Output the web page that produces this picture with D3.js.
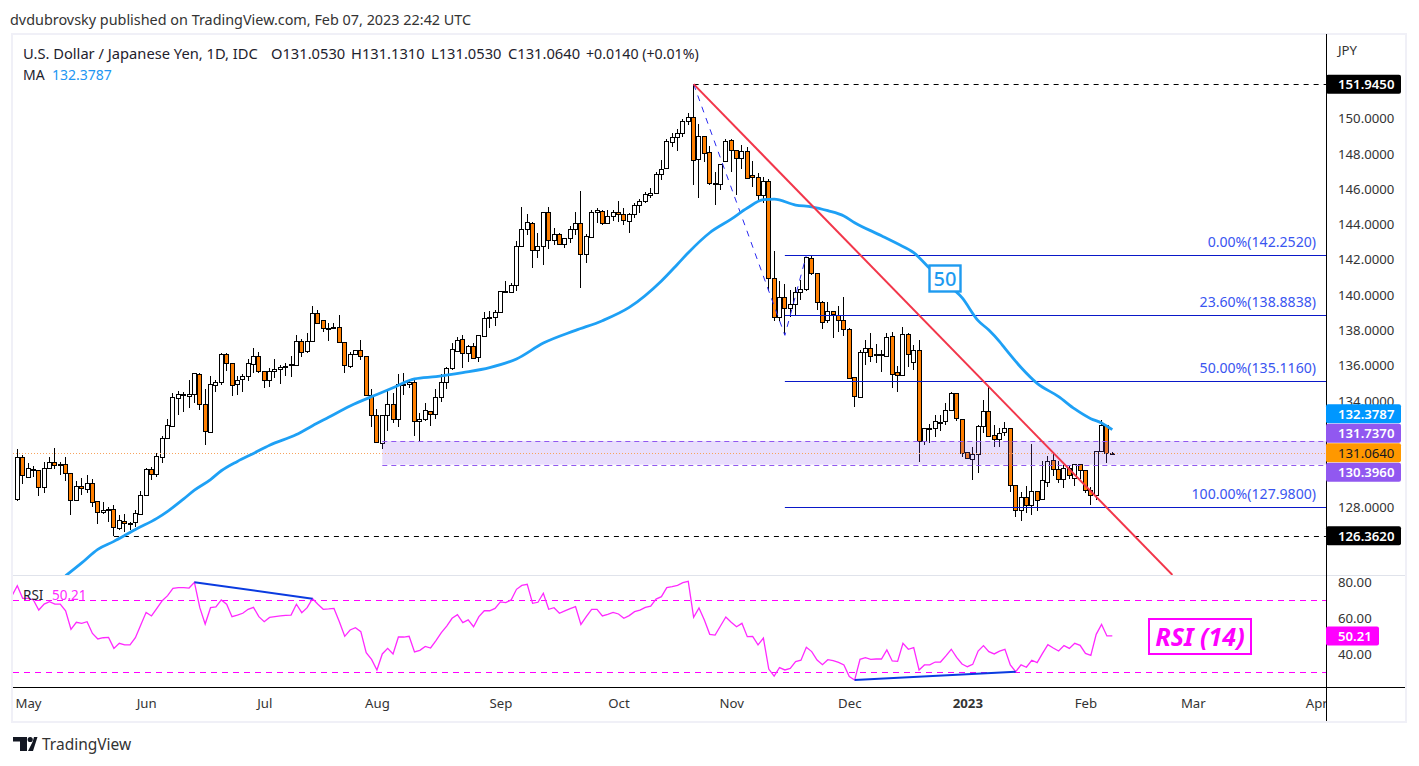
<!DOCTYPE html>
<html><head><meta charset="utf-8">
<script src="https://cdn.jsdelivr.net/npm/d3@7"></script>
<style>html,body{margin:0;padding:0;background:#fff}svg{display:block}text{font-family:"Noto Sans",sans-serif;white-space:pre}</style>
</head><body><div id="c"></div>
<script>
const opens=[128.43,130.81,129.71,130.13,130.07,129.11,130.18,130.52,130.41,130.41,
129.90,128.37,129.16,128.99,129.33,128.31,127.69,127.80,127.86,126.78,
127.18,127.07,127.12,127.58,128.65,130.13,129.84,130.81,131.88,132.56,
134.15,134.37,134.26,134.37,135.51,133.81,132.22,134.88,135.05,136.64,
136.13,134.94,135.22,135.39,136.07,136.53,135.68,135.17,135.68,135.79,
135.90,136.02,136.02,137.38,136.81,137.38,138.96,138.57,138.15,138.15,
138.21,137.32,136.00,136.65,136.87,136.53,134.32,133.19,131.60,133.19,
133.81,132.96,134.95,134.95,135.06,132.85,132.96,133.42,133.25,134.21,
135.06,135.85,136.82,137.50,136.70,137.10,136.48,137.67,138.68,138.74,
139.02,140.15,140.15,140.55,142.76,143.73,144.07,142.54,142.76,144.69,
143.10,143.44,142.88,143.22,143.73,144.07,142.31,143.27,144.69,144.75,
144.07,144.46,144.69,144.57,144.18,144.57,145.09,145.31,145.65,145.76,
146.86,147.18,148.65,148.94,149.16,149.84,150.07,147.69,148.99,148.08,
146.33,146.27,147.57,148.76,148.20,147.74,148.14,146.78,146.67,145.65,
146.44,140.95,138.74,139.87,139.25,139.47,140.15,140.32,142.08,141.23,
139.59,138.57,139.08,138.85,138.57,138.06,135.34,134.21,136.75,136.98,
136.64,136.64,136.53,137.66,135.62,135.45,137.77,136.19,136.87,131.72,
132.40,132.45,132.74,132.85,133.47,134.44,132.96,131.10,130.70,130.98,
132.57,133.42,132.06,131.83,132.23,132.45,129.23,127.81,128.55,128.09,
128.89,128.43,129.40,130.64,130.13,129.57,130.19,129.62,130.42,130.07,
128.94,128.66,131.15,132.62,131.053];
const highs=[131.26,130.94,130.50,130.32,130.07,130.54,130.84,131.32,130.56,130.81,
129.90,129.48,129.62,129.79,129.60,128.31,128.26,128.01,128.11,127.52,
127.58,127.12,127.82,128.90,130.18,130.24,131.03,132.01,132.96,134.47,
134.56,134.52,135.19,135.56,135.56,134.66,135.41,135.19,136.70,136.70,
136.13,135.41,135.51,136.36,136.98,136.79,135.68,135.85,136.36,136.04,
136.13,136.55,137.72,137.49,137.83,139.38,139.15,138.57,138.40,138.40,
138.87,137.32,136.76,136.87,137.46,136.53,134.66,133.55,133.19,134.55,
134.44,135.51,135.57,135.19,135.29,133.30,133.87,133.42,134.66,135.51,
135.91,137.27,137.65,137.74,137.17,137.27,137.72,139.02,139.10,139.16,
140.21,140.78,140.71,143.05,144.97,144.59,144.12,143.50,144.69,144.97,
143.78,143.50,143.22,143.91,144.69,145.90,143.44,144.82,144.92,144.82,
144.82,144.82,145.31,144.92,144.63,145.20,145.43,145.82,146.05,146.99,
147.65,148.82,149.16,149.39,149.95,150.29,151.945,149.69,148.99,148.44,
146.95,147.40,148.82,148.82,148.20,148.48,148.37,147.57,146.89,146.67,
146.55,142.48,140.78,140.61,140.29,140.47,140.85,142.14,142.23,141.23,
139.66,139.59,139.08,139.36,139.87,138.11,135.34,136.87,137.43,137.83,
137.21,136.87,137.83,137.89,135.96,138.17,137.83,137.15,137.46,132.45,
132.70,133.21,133.21,133.87,134.49,134.44,132.96,131.10,131.38,132.64,
134.06,134.81,132.62,132.45,132.83,132.45,129.23,128.83,129.19,131.57,
128.89,130.59,130.87,131.09,130.59,130.36,130.32,130.42,130.42,130.07,
129.11,131.15,132.93,132.62,131.131];
const lows=[128.35,129.30,129.65,129.71,128.63,128.77,130.13,130.15,129.80,129.48,
127.56,128.37,128.67,128.77,128.01,127.05,127.58,127.16,126.362,126.70,
126.60,126.69,126.88,127.52,128.65,129.52,129.67,130.47,131.88,132.56,
133.22,133.35,133.60,133.86,133.49,131.52,132.22,134.53,134.90,135.68,
134.30,134.34,134.53,135.15,135.56,135.56,134.75,134.81,135.28,134.96,
135.43,135.37,136.02,136.49,136.70,137.38,138.40,137.92,137.41,138.11,
137.32,135.60,135.89,136.61,136.32,134.32,132.55,131.66,131.27,132.32,
132.78,132.55,134.34,134.72,132.02,131.76,132.89,132.59,132.96,133.93,
134.66,135.76,136.76,135.85,136.19,136.36,136.23,137.65,138.12,138.25,
139.02,140.10,140.10,140.23,142.76,143.39,141.55,142.12,141.69,142.59,
142.82,142.88,142.69,142.93,143.39,140.38,141.80,143.27,144.07,143.97,
144.07,144.20,144.16,143.95,143.54,144.35,144.63,145.20,145.48,145.76,
146.52,147.18,148.41,148.18,148.94,149.63,146.23,145.52,147.55,146.23,
145.12,145.95,147.57,146.99,145.69,147.16,146.61,146.10,145.35,145.19,
140.25,138.51,138.51,137.72,138.77,138.85,139.72,140.21,141.12,139.15,
138.10,138.40,137.55,137.89,137.68,135.23,133.64,134.15,136.02,136.21,
136.13,135.62,136.53,134.72,134.53,135.45,135.94,135.75,130.57,131.51,
131.64,131.94,132.32,132.64,133.47,132.89,130.81,130.70,129.53,129.90,
132.17,131.94,131.38,131.41,132.02,128.87,127.41,127.22,127.64,127.54,
127.79,128.38,129.15,129.75,129.34,129.06,129.57,129.19,129.57,128.77,
128.13,128.38,131.15,130.47,131.053];
const closes=[130.81,129.79,130.18,130.07,129.11,130.18,130.52,130.35,130.35,129.90,
128.37,129.16,129.05,129.33,128.26,127.69,127.80,127.86,126.84,127.24,
127.07,127.10,127.63,128.65,130.13,129.84,130.86,131.88,132.62,134.20,
134.37,134.37,134.37,135.56,133.81,132.28,134.94,135.05,136.64,136.13,
134.88,135.17,135.39,136.13,136.53,135.68,135.17,135.68,135.79,135.90,
135.96,136.07,137.38,136.75,137.38,138.96,138.40,138.11,138.09,138.21,
137.32,136.02,136.65,136.87,136.53,134.32,133.19,131.66,133.19,133.81,
132.96,134.95,134.89,135.06,132.85,132.96,133.47,133.25,134.21,135.06,
135.85,136.93,137.44,136.70,137.10,136.42,137.72,138.68,138.74,139.02,
140.21,140.21,140.55,142.76,143.73,144.12,142.54,142.76,144.69,143.10,
143.44,142.88,143.22,143.73,144.07,142.31,143.33,144.69,144.80,144.07,
144.46,144.69,144.57,144.24,144.57,145.09,145.31,145.71,145.76,146.86,
147.12,148.71,148.94,149.16,149.84,150.07,147.63,148.99,148.03,146.33,
146.27,147.40,148.71,148.20,147.74,148.14,146.61,146.67,145.65,146.44,
140.95,138.74,139.87,139.25,139.47,140.15,140.32,142.14,141.23,139.59,
138.45,139.08,138.91,138.57,138.06,135.28,134.26,136.75,136.98,136.53,
136.59,136.59,137.60,135.51,135.45,137.77,136.64,136.87,131.72,132.45,
132.45,132.85,132.79,133.47,134.44,133.02,131.04,130.76,130.98,132.57,
133.42,132.00,131.83,132.17,132.45,129.23,127.81,128.55,128.09,128.89,
128.38,129.51,130.59,130.13,129.57,130.19,129.79,130.42,130.07,128.94,
128.66,131.15,132.62,131.04,131.064];
const maBars=[9,12,15,18,20,22,26,28,31,33,36,38,41,44,47,52,55,58,62,67,70,74,78,83,88,93,98,104,109,114,120,123,125,129,133,136,139,141,145,148,151,154,156,161,164,167,170,172,176,179,181,183,184,187,190,194,197,200,202,204];
const maValues=[124.10,124.83,125.6,126.05,126.38,126.72,127.35,127.75,128.46,128.95,129.55,130.05,130.58,131.03,131.5,132.1,132.6,133.08,133.72,134.37,134.75,135.25,135.38,135.61,135.89,136.38,137.28,138.0,138.55,139.3,140.8,141.75,142.4,143.53,144.3,144.93,145.4,145.43,145.1,145.0,144.78,144.48,144.1,143.36,142.9,142.4,141.5,140.9,139.85,138.55,138.02,137.36,136.98,135.9,135.0,134.25,133.55,133.0,132.76,132.3787];
// first RSI value belongs to the bar just left of the first candle
const rsiValues=[72.5,78.1,71.1,71.1,70.2,64.6,67.9,69.2,67.9,67.9,64.2,
53.9,57.8,57.2,58.1,51.6,48.5,49.2,49.4,43.3,46.1,
45.2,45.2,49.2,56.3,63.3,61.3,65.5,69.8,72.6,76.6,
77.0,77.0,76.8,80.0,65.9,56.8,65.9,66.3,70.2,67.8,
60.9,61.8,62.8,65.0,66.1,60.9,58.1,60.5,60.9,61.3,
61.6,61.8,67.8,63.1,65.9,70.9,67.8,65.0,65.2,65.5,
58.1,50.0,53.5,54.8,52.6,40.9,37.2,31.3,40.2,43.3,
40.2,49.6,49.6,50.0,41.3,42.2,44.4,43.5,47.6,52.0,
55.7,60.0,62.0,57.6,59.1,55.3,60.9,
64.2,64.2,65.5,69.1,68.7,70.2,76.1,78.3,78.9,68.3,
68.9,73.9,65.0,65.9,62.8,64.1,65.4,66.5,56.6,60.9,
65.0,65.0,61.3,62.2,63.3,62.4,60.0,61.5,63.7,64.6,
66.1,66.8,70.7,72.0,77.0,77.6,78.3,79.8,80.5,60.5,
65.7,59.1,51.1,50.7,55.7,60.7,57.8,55.3,57.2,49.8,
50.0,45.2,49.0,31.8,27.9,32.6,31.3,32.2,35.9,36.7,
43.9,41.5,36.8,34.2,37.0,36.5,35.5,34.1,27.6,25.7,
37.2,38.1,37.2,37.4,37.4,42.4,36.3,36.1,46.1,42.8,
43.7,31.3,34.1,34.1,35.7,35.7,39.1,42.8,38.3,
34.6,33.1,34.4,41.8,44.8,41.5,40.2,41.8,42.8,34.1,
30.3,34.1,32.8,36.7,35.4,40.5,45.4,43.5,41.8,44.8,
43.3,46.1,45.0,40.5,39.4,51.1,56.6,50.2,50.21];
const fibLevels=[142.252,138.8838,135.116,127.98];
const fibLabels=["0.00%(142.2520)","23.60%(138.8838)","50.00%(135.1160)","100.00%(127.9800)"];
const priceTicks=[128,134,136,138,140,142,144,146,148,150];
const rsiTicks=[80,60,40];
const rsiBands=[70,30];
const monthBars=[2,24,46,67,90,112,133,155,177,199,219,242];
const monthLabels=["May","Jun","Jul","Aug","Sep","Oct","Nov","Dec","2023","Feb","Mar","Apr"];
const legendParts=["U.S. Dollar / Japanese Yen, 1D, IDC","O131.0530","H131.1310","L131.0530","C131.0640","+0.0140 (+0.01%)"];
const zigBars=[126,143,147], zigPrices=[151.945,137.72,142.252];
const trendBars=[126,215.2], trendPrices=[151.945,124.15];
const rsiDivA={bars:[33,55],vals:[80.0,70.9]}, rsiDivB={bars:[156,186],vals:[25.7,30.3]};
const zoneTop=131.737, zoneBottom=130.396, zoneStartBar=68;
const hiPrice=151.945, loPrice=126.362, hiBar=126, loBar=18, fibBar=143;

const W=1419,H=766,L=13,R=1326,T=35,B=575,RT=576,RB=687,FR=1405,FB=721;
const x=d3.scaleLinear().domain([0,204]).range([17.3,1112.3]);
const y=d3.scaleLinear().domain([127.98,142.252]).range([507.3,255.3]);
const yr=d3.scaleLinear().domain([30,70]).range([672.3,600.3]);
const svg=d3.select("#c").append("svg").attr("width",W).attr("height",H).attr("viewBox",`0 0 ${W} ${H}`);
const defs=svg.append("defs");
defs.append("clipPath").attr("id","mainClip").append("rect").attr("x",L).attr("y",T).attr("width",R-L).attr("height",B-T);
defs.append("clipPath").attr("id","rsiClip").append("rect").attr("x",L).attr("y",RT).attr("width",R-L).attr("height",RB-RT);
defs.append("clipPath").attr("id","timeClip").append("rect").attr("x",L).attr("y",RB).attr("width",R-L).attr("height",FB-RB);

const ink="#1e222d";
// header
svg.append("text").attr("x",10).attr("y",25).attr("font-size",14.4).attr("fill","#333").text("dvdubrovsky published on TradingView.com, Feb 07, 2023 22:42 UTC");
// frame
svg.append("rect").attr("x",L-1).attr("y",T-1).attr("width",FR-L+2).attr("height",FB-T+2).attr("fill","none").attr("stroke","#f0f0f7").attr("stroke-width",2);

const main=svg.append("g").attr("clip-path","url(#mainClip)");
const cx=i=>Math.floor(x(i))+0.5;
const idx=d3.range(opens.length);
const candles=main.append("g").attr("shape-rendering","crispEdges");
candles.selectAll("line").data(idx).join("line")
 .attr("x1",cx).attr("x2",cx).attr("y1",i=>y(highs[i])).attr("y2",i=>y(lows[i])).attr("stroke","#000").attr("stroke-width",1);
candles.selectAll("rect").data(idx).join("rect")
 .attr("x",i=>cx(i)-2).attr("width",4)
 .attr("y",i=>Math.round(y(Math.max(opens[i],closes[i])))+0.5)
 .attr("height",i=>Math.max(1,Math.round(y(Math.min(opens[i],closes[i])))-Math.round(y(Math.max(opens[i],closes[i])))))
 .attr("fill",i=>closes[i]>=opens[i]?"#fff":"#ff7f00").attr("stroke","#000").attr("stroke-width",1);

// zone
main.append("rect").attr("x",x(zoneStartBar)).attr("width",R-x(zoneStartBar)).attr("y",y(zoneTop)).attr("height",y(zoneBottom)-y(zoneTop)).attr("fill","rgba(145,88,240,0.2)");
[zoneTop,zoneBottom].forEach(p=>main.append("line").attr("x1",x(zoneStartBar)).attr("x2",R).attr("y1",Math.round(y(p))+.5).attr("y2",Math.round(y(p))+.5).attr("stroke","#9158f0").attr("stroke-dasharray","5 4"));
// last price dotted
main.append("line").attr("x1",L).attr("x2",R).attr("y1",Math.round(y(closes[204]))+.5).attr("y2",Math.round(y(closes[204]))+.5).attr("stroke","#f7a35c").attr("stroke-dasharray","1 2");
// fib
fibLevels.forEach((p,k)=>{
 main.append("line").attr("x1",x(fibBar)).attr("x2",R).attr("y1",Math.round(y(p))+.5).attr("y2",Math.round(y(p))+.5).attr("stroke","#0a18c8");
 main.append("text").attr("x",1316).attr("y",y(p)-8).attr("text-anchor","end").attr("font-size",14.1).attr("fill","#3a55f0").text(fibLabels[k]);
});
// hi/lo
main.append("line").attr("x1",x(hiBar)).attr("x2",R).attr("y1",Math.round(y(hiPrice))+.5).attr("y2",Math.round(y(hiPrice))+.5).attr("stroke","#000").attr("stroke-dasharray","5 5");
main.append("line").attr("x1",x(loBar)).attr("x2",R).attr("y1",Math.round(y(loPrice))+.5).attr("y2",Math.round(y(loPrice))+.5).attr("stroke","#000").attr("stroke-dasharray","5 5");
// zigzag
const lp=d3.line().x(d=>x(d[0])).y(d=>y(d[1]));
main.append("path").attr("d",lp(d3.zip(zigBars,zigPrices))).attr("fill","none").attr("stroke","#2a2af0").attr("stroke-dasharray","6 6");
// MA
main.append("path").attr("d",d3.line().x(d=>x(d[0])).y(d=>y(d[1])).curve(d3.curveMonotoneX)(d3.zip(maBars,maValues))).attr("fill","none").attr("stroke","#1ea0f5").attr("stroke-width",2.8);
// trend
main.append("path").attr("d",lp(d3.zip(trendBars,trendPrices))).attr("fill","none").attr("stroke","#f2364a").attr("stroke-width",2);
// 50 box
svg.append("rect").attr("x",929.5).attr("y",265.5).attr("width",31).attr("height",26).attr("fill","#fff").attr("stroke","#1e9bf0").attr("stroke-width",2.4);
svg.append("text").attr("x",945).attr("y",286).attr("text-anchor","middle").attr("font-size",20).attr("font-weight",500).attr("fill","#1e9bf0").text("50");
// legend
const legendX=[23,271,351,431,508,586];
legendParts.forEach((t,k)=>svg.append("text").attr("x",legendX[k]).attr("y",59).attr("font-size",k===5?14.2:14.7).attr("fill",ink).text(t));
svg.append("text").attr("x",23).attr("y",80).attr("font-size",14).attr("fill",ink).text("MA");
svg.append("text").attr("x",52).attr("y",80).attr("font-size",14).attr("fill","#2196f3").text("132.3787");

// RSI pane
const rsiG=svg.append("g").attr("clip-path","url(#rsiClip)");
rsiBands.forEach(v=>rsiG.append("line").attr("x1",L).attr("x2",R).attr("y1",Math.round(yr(v))+.5).attr("y2",Math.round(yr(v))+.5).attr("stroke","#ff00ff").attr("stroke-dasharray","6 5"));
svg.append("text").attr("x",23).attr("y",600).attr("font-size",13.5).attr("fill",ink).text("RSI");
svg.append("text").attr("x",52).attr("y",600).attr("font-size",13.5).attr("fill","#ff29ff").text("50.21");
const rl=d3.line().x((d,i)=>x(i-1)).y(d=>yr(d));
rsiG.append("path").attr("d",rl(rsiValues)).attr("fill","none").attr("stroke","#ff29ff").attr("stroke-width",1.3);
[rsiDivA,rsiDivB].forEach(d=>rsiG.append("line").attr("x1",x(d.bars[0])).attr("x2",x(d.bars[1])).attr("y1",yr(d.vals[0])).attr("y2",yr(d.vals[1])).attr("stroke","#0a3be0").attr("stroke-width",2));
svg.append("rect").attr("x",1149).attr("y",619).attr("width",102).attr("height",35).attr("fill","#fff").attr("stroke","#ff00ff").attr("stroke-width",2);
svg.append("text").attr("x",1200).attr("y",646).attr("text-anchor","middle").attr("font-size",25).attr("font-style","italic").attr("font-weight",700).attr("fill","#ff00ff").text("RSI (14)");

// separators
svg.append("line").attr("x1",L).attr("x2",FR).attr("y1",575.5).attr("y2",575.5).attr("stroke","#e0e3eb");
svg.append("line").attr("x1",L).attr("x2",FR).attr("y1",687.5).attr("y2",687.5).attr("stroke","#000");
svg.append("line").attr("x1",R+.5).attr("x2",R+.5).attr("y1",T-1).attr("y2",FB).attr("stroke","#000");

// axes
function styleAxis(g,fs){g.select(".domain").remove();g.selectAll("text").attr("font-size",fs).attr("fill","#333");}
svg.append("g").attr("transform",`translate(${R},0)`).call(d3.axisRight(y).tickValues(priceTicks).tickSize(0).tickPadding(12).tickFormat(d3.format(".4f"))).call(g=>styleAxis(g,13.2));
svg.append("g").attr("transform",`translate(${R},0)`).call(d3.axisRight(yr).tickValues(rsiTicks).tickSize(0).tickPadding(12).tickFormat(d3.format(".2f"))).call(g=>styleAxis(g,13.2));
svg.append("g").attr("clip-path","url(#timeClip)").append("g").attr("transform",`translate(0,${RB})`)
 .call(d3.axisBottom(x).tickValues(monthBars).tickSize(0).tickPadding(12).tickFormat((d,i)=>monthLabels[i]))
 .call(g=>styleAxis(g,13.2)).call(g=>g.selectAll("text").attr("font-weight",(d,i)=>monthLabels[i]==="2023"?700:400));
svg.append("text").attr("x",1338).attr("y",55).attr("font-size",13.2).attr("fill","#333").text("JPY");

// price tags: stacked away from the last-price tag when they would overlap
function tag(val,cy,bg,fg,fmt,w){
 svg.append("rect").attr("x",R).attr("y",cy-9.5).attr("width",w).attr("height",19).attr("rx",2).attr("fill",bg);
 svg.append("text").attr("x",R+12).attr("y",cy+4.7).attr("font-size",13.2).attr("font-weight",fg==="#fff"?600:400).attr("fill",fg).text(fmt(val));
}
const f4=d3.format(".4f"),gap=19.5;
const yLast=y(closes[204]);
const yZt=Math.min(y(zoneTop),yLast-gap), yMa=Math.min(y(maValues[maValues.length-1]),yZt-gap), yZb=Math.max(y(zoneBottom),yLast+gap);
tag(hiPrice,y(hiPrice),"#000","#fff",f4,75);
tag(loPrice,y(loPrice),"#000","#fff",f4,75);
tag(maValues[maValues.length-1],yMa,"#0097ff","#fff",f4,75);
tag(zoneTop,yZt,"#9158f0","#fff",f4,75);
tag(closes[204],yLast,"#ff9800","#131722",f4,75);
tag(zoneBottom,yZb,"#9158f0","#fff",f4,75);
tag(rsiValues[rsiValues.length-1],yr(rsiValues[rsiValues.length-1]),"#ff00ff","#fff",d3.format(".2f"),53);

// logo
const logo=svg.append("g").attr("fill","#131722");
logo.append("path").attr("d","M13 737H27V751H20V741.5H13Z");
logo.append("circle").attr("cx",30.2).attr("cy",739.5).attr("r",2.6);
logo.append("path").attr("d","M30 751L34 737H37.5L33 751Z M28 751L33 741L33 751Z");
svg.append("text").attr("x",42).attr("y",750).attr("font-size",15.5).attr("fill","#333").text("TradingView");
</script></body></html>
